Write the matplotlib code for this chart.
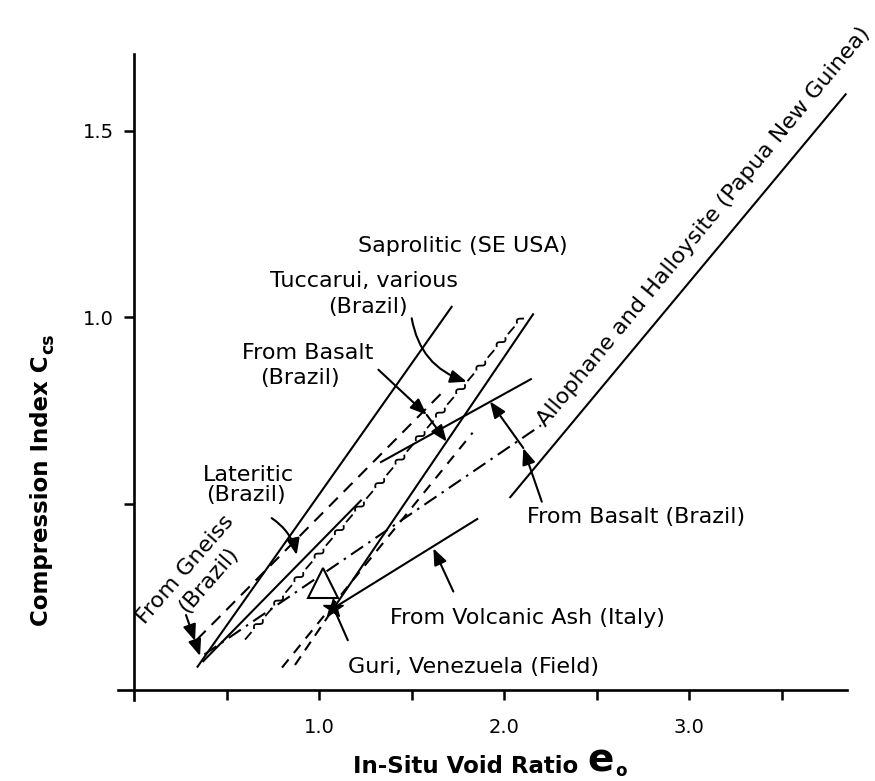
import matplotlib
matplotlib.use("Agg")
import matplotlib.pyplot as plt
import numpy as np

plt.rcParams['font.family'] = ['DejaVu Sans']

# ---------------- data ----------------
x_ticks = [0.5, 1.0, 1.5, 2.0, 2.5, 3.0, 3.5]
x_tick_labels = ['', '1.0', '', '2.0', '', '3.0', '']
y_ticks = [0.5, 1.0, 1.5]
y_tick_labels = ['', '1.0', '1.5']

sap_x = [0.34, 1.72]; sap_y = [0.06, 1.03]            # Saprolitic (SE USA)
lat_x = [0.37, 1.23]; lat_y = [0.075, 0.51]           # Lateritic (Brazil)
gneiss_x = [0.34, 1.68]; gneiss_y = [0.135, 0.805]    # From Gneiss (Brazil)
basalt2_x = [0.38, 2.20]; basalt2_y = [0.095, 0.71]   # dash-dot
tuc_x = [0.60, 2.10]; tuc_y = [0.135, 1.00]           # Tuccarui, various
guri_x = [0.87, 1.08, 2.16]; guri_y = [0.067, 0.22, 1.01]
steep_x = [0.80, 1.83]; steep_y = [0.06, 0.69]
basalt1_x = [1.33, 2.15]; basalt1_y = [0.61, 0.835]   # From Basalt (Brazil)
volc_x = [1.08, 1.86]; volc_y = [0.22, 0.46]          # From Volcanic Ash (Italy)
png_x = [2.03, 3.85]; png_y = [0.515, 1.60]           # Allophane & Halloysite (PNG)
tri_x = [1.019]; tri_y = [0.288]
star_x = [1.077]; star_y = [0.22]

# ---------------- figure ----------------
fig = plt.figure(figsize=(8.75, 7.81), dpi=100)
ax = fig.add_axes([118/875, 1-700/781, (846.7-118)/875, (700-54)/781])
ax.set_xlim(-0.0865, 3.852)
ax.set_ylim(-0.027, 1.706)
for s in ['top', 'right']:
    ax.spines[s].set_visible(False)
ax.spines['left'].set_position(('data', 0))
ax.spines['bottom'].set_position(('data', 0))
for s in ['left', 'bottom']:
    ax.spines[s].set_linewidth(1.9)
ax.set_xticks(x_ticks)
ax.set_xticklabels(x_tick_labels)
ax.set_yticks(y_ticks)
ax.set_yticklabels(y_tick_labels)
ax.tick_params(direction='out', length=7.5, width=1.8, labelsize=14)
ax.tick_params(axis='x', pad=13)
ax.tick_params(axis='y', pad=7)

LW = 1.5
kw = dict(color='k', lw=LW, solid_capstyle='butt', dash_capstyle='butt')
ax.plot(sap_x, sap_y, **kw)
ax.plot(lat_x, lat_y, **kw)
ax.plot(gneiss_x, gneiss_y, dashes=(6, 4), **kw)
ax.plot(basalt2_x, basalt2_y, dashes=(7, 3, 1.2, 3), **kw)
ax.plot(guri_x[1:], guri_y[1:], **kw)
ax.plot(guri_x[:2], guri_y[:2], dashes=(5, 3.5), **kw)
ax.plot(steep_x, steep_y, dashes=(5, 4), **kw)
ax.plot(basalt1_x, basalt1_y, **kw)
ax.plot(volc_x, volc_y, **kw)
ax.plot(png_x, png_y, clip_on=False, **kw)


def wavy_dash(ax, x, y, dash=10, wave=13, gap=4, amp=2.4):
    p0 = ax.transData.transform((x[0], y[0]))
    p1 = ax.transData.transform((x[1], y[1]))
    d = p1 - p0
    L = np.hypot(*d)
    u = d / L
    n = np.array([-u[1], u[0]])
    inv = ax.transData.inverted()
    s = 0.0
    toggle = True
    while s < L:
        if toggle:
            t = np.array([s, min(s + dash, L)])
            pts = p0 + np.outer(t, u)
            s += dash + gap
        else:
            e = min(s + wave, L)
            t = np.linspace(s, e, 25)
            off = amp * np.sin(2 * np.pi * (t - s) / wave)
            pts = p0 + np.outer(t, u) + np.outer(off, n)
            s += wave + gap
        toggle = not toggle
        dpts = inv.transform(pts)
        ax.plot(dpts[:, 0], dpts[:, 1], color='k', lw=1.3, solid_capstyle='butt')


wavy_dash(ax, tuc_x, tuc_y)

ax.plot(tri_x, tri_y, marker='^', ms=21, mfc='white', mec='k', mew=1.5, ls='none')
ax.plot(star_x, star_y, marker='*', ms=15, color='k', ls='none')

# ---------------- arrows ----------------
AS = '-|>,head_length=0.55,head_width=0.22'


def arrow(tail, tip, rad=0.0):
    ax.annotate('', xy=tip, xytext=tail,
                arrowprops=dict(arrowstyle=AS, color='k', lw=1.5, mutation_scale=18,
                                shrinkA=0, shrinkB=0,
                                connectionstyle=f'arc3,rad={rad}'))


arrow((0.281, 0.201), (0.330, 0.131))
arrow((0.330, 0.131), (0.357, 0.091))
arrow((0.744, 0.461), (0.879, 0.362), rad=-0.2)
arrow((1.501, 0.997), (1.798, 0.827), rad=0.3)
arrow((1.321, 0.859), (1.582, 0.738))
arrow((1.582, 0.738), (1.690, 0.666))
arrow((2.204, 0.505), (2.104, 0.649))
arrow((2.104, 0.649), (1.924, 0.774))
arrow((1.726, 0.264), (1.618, 0.380))
ax.plot([1.155, 1.076], [0.134, 0.223], color='k', lw=1.5)

# ---------------- labels ----------------
FS = 16
ax.text(1.778, 1.191, 'Saprolitic (SE USA)', fontsize=FS, ha='center', va='center')
ax.text(1.243, 1.097, 'Tuccarui, various', fontsize=FS, ha='center', va='center')
ax.text(1.262, 1.028, '(Brazil)', fontsize=FS, ha='center', va='center')
ax.text(0.938, 0.903, 'From Basalt', fontsize=FS, ha='center', va='center')
ax.text(0.897, 0.836, '(Brazil)', fontsize=FS, ha='center', va='center')
ax.text(0.618, 0.577, 'Lateritic', fontsize=FS, ha='center', va='center')
ax.text(0.604, 0.523, '(Brazil)', fontsize=FS, ha='center', va='center')
ax.text(0.280, 0.322, 'From Gneiss', fontsize=FS, ha='center', va='center',
        rotation=49, rotation_mode='anchor')
ax.text(0.400, 0.295, '(Brazil)', fontsize=FS, ha='center', va='center',
        rotation=49, rotation_mode='anchor')
ax.text(1.384, 0.192, 'From Volcanic Ash (Italy)', fontsize=FS, ha='left', va='center')
ax.text(1.158, 0.062, 'Guri, Venezuela (Field)', fontsize=FS, ha='left', va='center')
ax.text(2.124, 0.464, 'From Basalt (Brazil)', fontsize=FS, ha='left', va='center')
ax.text(2.227, 0.703, 'Allophane and Halloysite (Papua New Guinea)', fontsize=FS,
        ha='left', va='baseline', rotation=50.5, rotation_mode='anchor', clip_on=False)

# axis titles
fig.canvas.draw()
r = fig.canvas.get_renderer()
H = 781
tx = fig.text(353/875, 1-773/H, 'In-Situ Void Ratio', fontsize=16.5, fontweight='bold',
              ha='left', va='baseline')
bb = tx.get_window_extent(r)
te = fig.text((bb.x1 + 9)/875, 1-772/H, 'e', fontsize=28, fontweight='bold',
              ha='left', va='baseline')
bb2 = te.get_window_extent(r)
fig.text((bb2.x1 + 2)/875, 1-776/H, 'o', fontsize=12, fontweight='bold',
         ha='left', va='baseline')

ty = fig.text(42/875, 1-626/H, 'Compression Index C', fontsize=16.5, fontweight='bold',
              rotation=90, ha='center', va='bottom')
bb3 = ty.get_window_extent(r)
fig.text((bb3.x0 + bb3.x1)/2/875 + 6/875, (bb3.y1 + 1)/H, 'cs', fontsize=12.5,
         fontweight='bold', rotation=90, ha='center', va='bottom')

fig.savefig('out.png', dpi=100)
